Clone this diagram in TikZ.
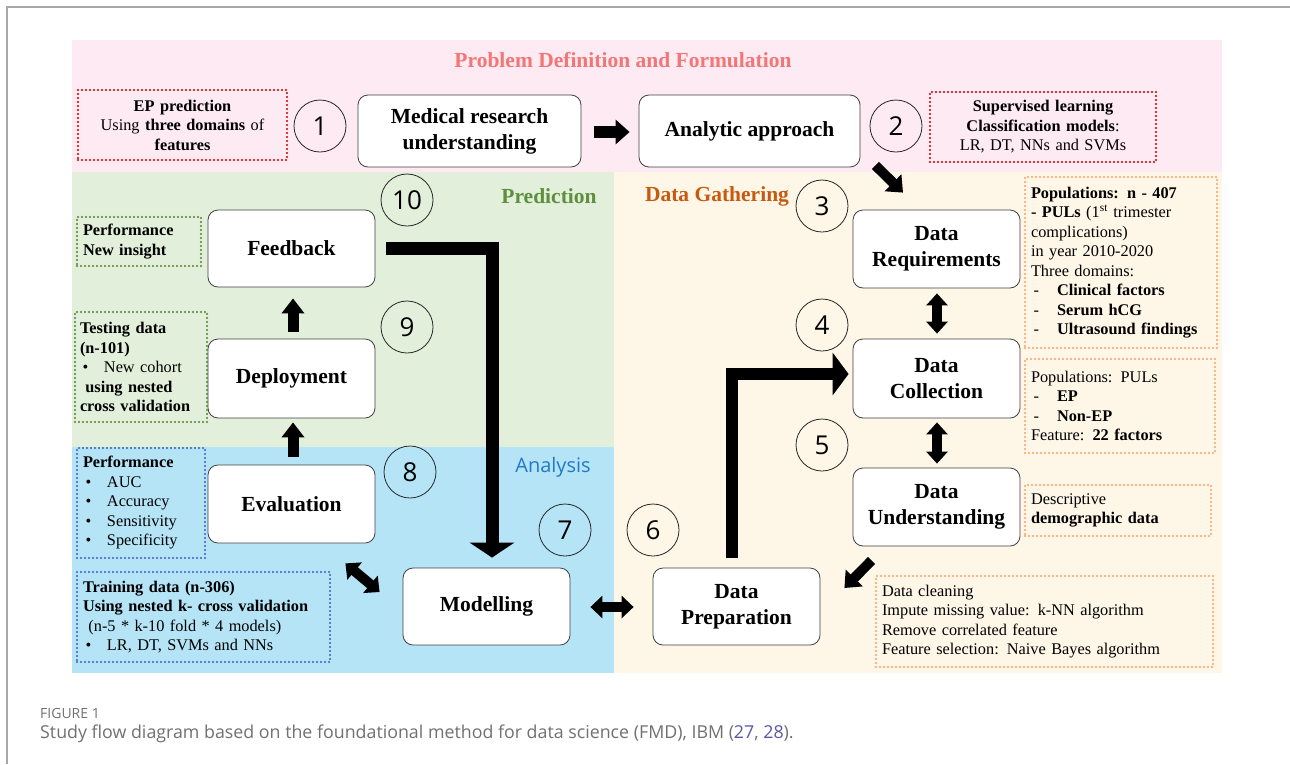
\documentclass[tikz,border=0pt]{standalone}
\usepackage{fontspec}
\setmainfont{Liberation Serif}
\newfontfamily\numfont{Open Sans}
\newfontfamily\capfont{Open Sans}
\usetikzlibrary{arrows.meta,calc}

\definecolor{pinkbg}{HTML}{FDEAF2}
\definecolor{greenbg}{HTML}{E2EFDA}
\definecolor{bluebg}{HTML}{B5E4F7}
\definecolor{creambg}{HTML}{FEF6E6}
\definecolor{titlered}{HTML}{F27676}
\definecolor{predgreen}{HTML}{5E8E3E}
\definecolor{gathorange}{HTML}{C65A11}
\definecolor{anblue}{HTML}{1F7BC8}
\definecolor{dotred}{HTML}{C00000}
\definecolor{dotgreen}{HTML}{538135}
\definecolor{dotblue}{HTML}{3A5FC4}
\definecolor{dotorange}{HTML}{F4A46E}
\definecolor{capgray}{HTML}{707070}
\definecolor{refblue}{HTML}{5A55A8}
\definecolor{framegray}{HTML}{A8A8A8}

\newcommand\bitem[1]{\makebox[24pt][l]{\,•}#1}
\newcommand\ditem[1]{\makebox[26pt][l]{\,-}#1}

\tikzset{
  stepbox/.style={rectangle, draw=black!75, fill=white, rounded corners=10pt,
    line width=0.8pt, align=center, inner sep=2pt,
    font=\fontsize{21.5}{26}\selectfont\bfseries},
  numc/.style={circle, draw=black!85, line width=0.8pt, minimum size=52pt,
    inner sep=0pt, font=\numfont\fontsize{26}{26}\selectfont},
  infobox/.style={rectangle, inner sep=0pt, line width=2.2pt,
    dash pattern=on 0pt off 4pt, line cap=round, align=left,
    font=\fontsize{16.3}{19.5}\selectfont},
  blk/.style={draw=black, line join=miter},
  lbl/.style={font=\fontsize{21.5}{24}\selectfont\bfseries},
}

\begin{document}
\begin{tikzpicture}[x=1pt,y=-1pt]
\useasboundingbox (0,0) rectangle (1290,764);

% outer frame
\draw[framegray, line width=1.2pt] (7,764) -- (7,7) -- (1290,7);

% phase panels
\fill[pinkbg]  (72,40)   rectangle (1222,172);
\fill[greenbg] (72,172)  rectangle (614,447);
\fill[bluebg]  (72,447)  rectangle (614,673);
\fill[creambg] (614,172) rectangle (1222,673);

% panel titles
\node[lbl, text=titlered] (title) at (623,60) {Problem Definition and Formulation};
\node[lbl, text=predgreen] (pred) at (549,196) {Prediction};
\node[lbl, text=gathorange] (gath) at (717,196) {Data Gathering};
\node[font=\capfont\fontsize{20}{22}\selectfont, text=anblue] (anal) at (553,467) {Analysis};

% process steps
\node[stepbox, minimum width=223pt, minimum height=72pt] (med) at (469.5,131) {Medical research\\understanding};
\node[stepbox, minimum width=221pt, minimum height=72pt] (ana) at (749.5,131) {Analytic approach};
\node[stepbox, minimum width=167pt, minimum height=78pt] (req) at (936.5,249) {Data\\Requirements};
\node[stepbox, minimum width=167pt, minimum height=79pt] (col) at (936.5,378.5) {Data\\Collection};
\node[stepbox, minimum width=167pt, minimum height=78pt] (und) at (936.5,507) {Data\\Understanding};
\node[stepbox, minimum width=167pt, minimum height=77pt] (prep) at (736.5,606.5) {Data\\Preparation};
\node[stepbox, minimum width=167pt, minimum height=77pt] (mod) at (486.5,606.5) {Modelling};
\node[stepbox, minimum width=167pt, minimum height=78pt] (eva) at (291.5,504) {Evaluation};
\node[stepbox, minimum width=167pt, minimum height=79pt] (dep) at (291.5,378.5) {Deployment};
\node[stepbox, minimum width=167pt, minimum height=77pt] (fb) at (291.5,248.5) {Feedback};

% step numbers
\node[numc] (n1) at (320,126) {1};
\node[numc] (n2) at (896,126) {2};
\node[numc] (n3) at (822,206) {3};
\node[numc] (n4) at (822,325) {4};
\node[numc] (n5) at (822,445) {5};
\node[numc] (n6) at (653,530) {6};
\node[numc] (n7) at (565,530) {7};
\node[numc] (n8) at (410,472) {8};
\node[numc] (n9) at (407,327) {9};
\node[numc] (n10) at (407,200) {10};

% notes
\node[infobox, draw=dotred, align=center, minimum width=209pt, minimum height=70pt, text width=199pt] (ep) at (182.5,125)
  {\textbf{EP prediction}\\Using \textbf{three domains} of\\\textbf{features}};
\node[infobox, draw=dotred, align=center, minimum width=226pt, minimum height=70pt, text width=216pt] (sup) at (1043,127)
  {\textbf{Supervised learning}\\\textbf{Classification models}:\\LR, DT, NNs and SVMs};
\node[infobox, draw=dotgreen, minimum width=124pt, minimum height=49pt, text width=112pt] (insight) at (139,241.5)
  {\textbf{Performance}\\\textbf{New insight}};
\node[infobox, draw=dotgreen, minimum width=132pt, minimum height=110pt, text width=122pt] (test) at (141,367)
  {\textbf{Testing data}\\\textbf{(n-101)}\\\bitem{New cohort}\\\ \textbf{using nested}\\\textbf{cross validation}};
\node[infobox, draw=dotblue, minimum width=128pt, minimum height=110pt, text width=116pt] (perf) at (141,503)
  {\textbf{Performance}\\\bitem{AUC}\\\bitem{Accuracy}\\\bitem{Sensitivity}\\\bitem{Specificity}};
\node[infobox, draw=dotblue, minimum width=253pt, minimum height=90pt, text width=241pt] (train) at (203.5,617)
  {\textbf{Training data (n-306)}\\\textbf{Using nested k- cross validation}\\\ (n-5 * k-10 fold * 4 models)\\\bitem{LR, DT, SVMs and NNs}};
\node[infobox, draw=dotorange, minimum width=192pt, minimum height=171pt, text width=180pt] (pop) at (1121,262.5)
  {\textbf{Populations: n - 407}\\\textbf{- PULs} (1\textsuperscript{st} trimester\\complications)\\in year 2010-2020\\Three domains:\\
   \ditem{\textbf{Clinical factors}}\\\ditem{\textbf{Serum hCG}}\\\ditem{\textbf{Ultrasound findings}}};
\node[infobox, draw=dotorange, minimum width=190pt, minimum height=94pt, text width=178pt] (pul) at (1120,406)
  {Populations: PULs\\\ditem{\textbf{EP}}\\\ditem{\textbf{Non-EP}}\\Feature: \textbf{22 factors}};
\node[infobox, draw=dotorange, minimum width=186pt, minimum height=51pt, text width=174pt] (desc) at (1118,510.5)
  {Descriptive\\\textbf{demographic data}};
\node[infobox, draw=dotorange, minimum width=337pt, minimum height=91pt, text width=325pt] (clean) at (1044.5,621.5)
  {Data cleaning\\Impute missing value: k-NN algorithm\\Remove correlated feature\\Feature selection: Naive Bayes algorithm};

% flow arrows
\draw[blk, line width=12pt, -{Triangle[width=24pt,length=14pt]}]
  ($(med.east)+(13,1)$) -- ($(ana.west)+(-9,1)$);
\draw[blk, line width=10pt, -{Triangle[width=23pt,length=14pt]}]
  ($(ana.south east)+(15,-2)$) -- ($(req.north)+(-33.5,-17)$);
\draw[blk, line width=10pt, {Triangle[width=21pt,length=12pt]}-{Triangle[width=21pt,length=12pt]}]
  ($(req.south)+(0.5,5)$) -- ($(col.north)+(0.5,-5)$);
\draw[blk, line width=10pt, {Triangle[width=21pt,length=12pt]}-{Triangle[width=21pt,length=12pt]}]
  ($(col.south)+(0.5,4)$) -- ($(und.north)+(0.5,-4)$);
\draw[blk, line width=10pt, -{Triangle[width=23pt,length=14pt]}]
  ($(und.south west)+(19,14)$) -- ($(prep.east)+(24,-18.5)$);
\draw[blk, line width=12pt, -{Triangle[width=42pt,length=16pt]}]
  ($(prep.north)+(-4.5,-10)$) |- ($(col.west)+(-4,-4.5)$);
\draw[blk, line width=10pt, {Triangle[width=22pt,length=12pt]}-{Triangle[width=22pt,length=12pt]}]
  ($(mod.east)+(20,0.5)$) -- ($(prep.west)+(-19,0.5)$);
\draw[blk, line width=10pt, {Triangle[width=22pt,length=12pt]}-{Triangle[width=22pt,length=12pt]}]
  ($(eva.south east)+(-30,20)$) -- ($(mod.west)+(-23,-14.5)$);
\draw[blk, line width=11pt, -{Triangle[width=22pt,length=15pt]}]
  ($(eva.north)+(1.5,-8)$) -- ($(dep.south)+(1.5,4)$);
\draw[blk, line width=11pt, -{Triangle[width=22pt,length=15pt]}]
  ($(dep.north)+(1.5,-7)$) -- ($(fb.south)+(1.5,11)$);
\draw[blk, line width=13pt, -{Triangle[width=44pt,length=15pt]}]
  ($(fb.east)+(11,0)$) -| ($(mod.north)+(5.5,-10)$);

% caption
\node[anchor=base west, inner sep=0pt, font=\capfont\fontsize{14}{16}\selectfont, text=capgray] (figlab) at (40,718) {FIGURE 1};
\node[anchor=base west, inner sep=0pt, font=\capfont\fontsize{17.8}{20}\selectfont, text=capgray] (cap) at (40,738)
  {Study flow diagram based on the foundational method for data science (FMD), IBM (\textcolor{refblue}{27}, \textcolor{refblue}{28}).};
\end{tikzpicture}
\end{document}
